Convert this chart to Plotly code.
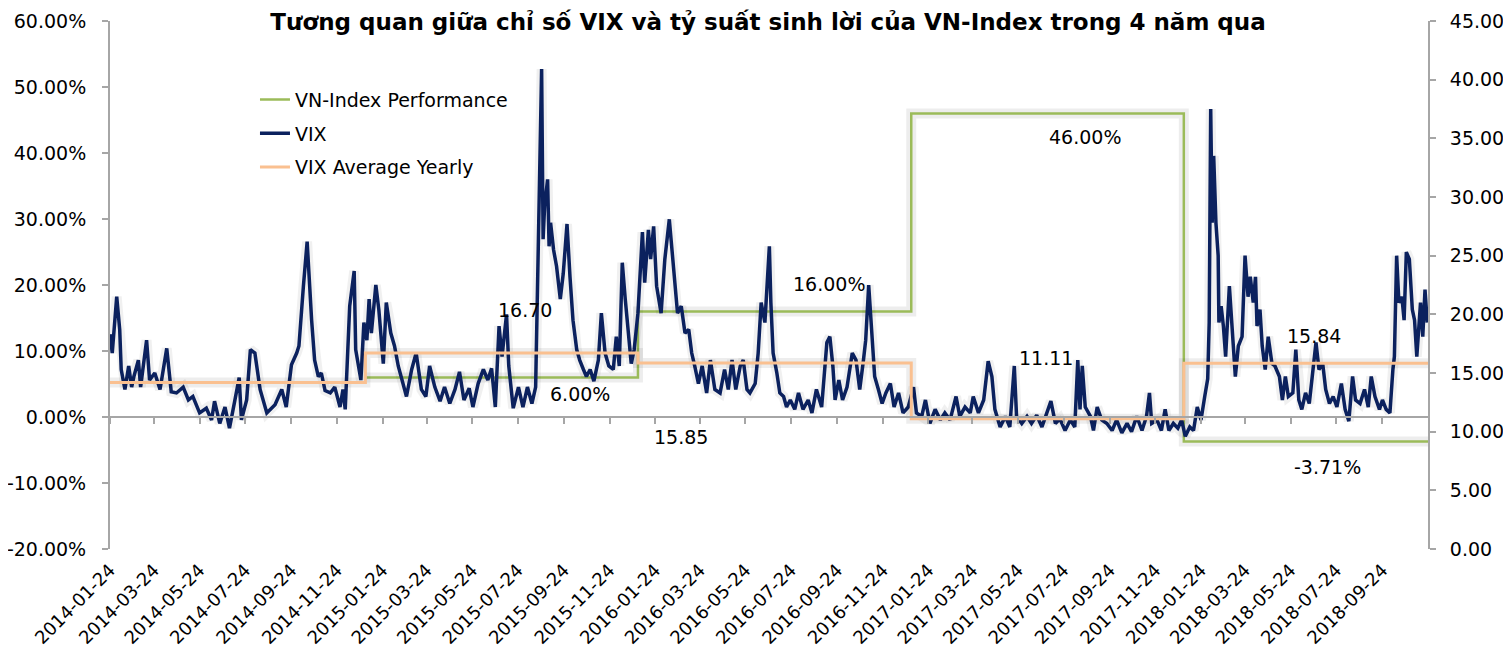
import pandas as pd
import plotly.graph_objects as go

# VIX readings: days after 2014-01-24 and index level
vix_day = [0, 3, 9, 13, 15, 20, 25, 29, 32, 38, 41, 49, 53, 60, 67, 76, 82, 89, 98, 105,
           111, 120, 129, 136, 140, 147, 154, 160, 167, 173, 176, 183, 188, 194, 201, 210, 221, 230, 236, 243,
           250, 253, 259, 264, 270, 274, 279, 283, 288, 295, 301, 308, 312, 315, 321, 327, 329, 336, 340, 344,
           347, 350, 356, 360, 366, 370, 376, 381, 386, 391, 397, 404, 410, 417, 423, 428, 435, 442, 448, 455,
           462, 468, 474, 481, 486, 493, 500, 506, 511, 516, 521, 525, 531, 534, 540, 547, 553, 559, 565, 570,
           578, 580, 582, 586, 588, 590, 594, 598, 603, 607, 612, 616, 620, 625, 629, 634, 638, 643, 648, 654,
           658, 663, 668, 674, 678, 682, 686, 690, 694, 698, 702, 707, 713, 716, 721, 724, 728, 732, 738, 743,
           749, 754, 760, 765, 770, 775, 779, 783, 788, 793, 799, 804, 810, 817, 823, 828, 833, 838, 844, 848,
           853, 857, 864, 868, 872, 877, 883, 885, 888, 893, 897, 902, 906, 911, 917, 922, 928, 935, 940, 946,
           953, 960, 964, 968, 971, 976, 981, 987, 994, 999, 1004, 1009, 1012, 1016, 1020, 1024, 1029, 1034, 1039, 1045,
           1050, 1056, 1062, 1069, 1076, 1080, 1087, 1092, 1098, 1105, 1112, 1118, 1125, 1133, 1138, 1145, 1152, 1156, 1163, 1170,
           1176, 1181, 1185, 1192, 1199, 1205, 1211, 1214, 1221, 1228, 1234, 1241, 1248, 1255, 1260, 1266, 1272, 1279, 1286, 1292,
           1296, 1299, 1302, 1306, 1313, 1317, 1322, 1328, 1335, 1342, 1348, 1355, 1362, 1368, 1375, 1382, 1388, 1392, 1395, 1402,
           1408, 1413, 1418, 1424, 1430, 1435, 1440, 1446, 1451, 1456, 1461, 1466, 1470, 1472, 1474, 1476, 1478, 1481, 1484, 1485,
           1488, 1491, 1494, 1499, 1502, 1507, 1511, 1516, 1520, 1524, 1527, 1531, 1534, 1536, 1540, 1543, 1547, 1551, 1556, 1560,
           1566, 1570, 1574, 1578, 1584, 1588, 1592, 1596, 1601, 1606, 1610, 1615, 1619, 1624, 1628, 1633, 1638, 1643, 1649, 1654,
           1659, 1664, 1668, 1674, 1680, 1685, 1689, 1694, 1700, 1704, 1709, 1714, 1718, 1720, 1723, 1726, 1730, 1733, 1736, 1740,
           1744, 1747, 1750, 1755, 1758, 1761, 1764]
vix_value = [18.3, 16.7, 21.5, 18.7, 15.3, 13.6, 15.6, 13.8, 14.7, 16.1, 13.8, 17.8, 14.4, 15.0, 13.6, 17.1, 13.4, 13.3, 13.8, 12.7,
             13.0, 11.6, 12.0, 11.0, 12.6, 10.7, 12.1, 10.3, 12.6, 14.6, 11.0, 12.7, 17.0, 16.7, 13.6, 11.6, 12.3, 13.6, 12.1, 15.7,
             16.7, 17.3, 22.4, 26.2, 19.5, 16.1, 14.7, 15.0, 13.5, 13.3, 13.8, 12.1, 13.6, 11.9, 20.7, 23.7, 17.0, 14.4, 19.3, 17.8,
             21.3, 18.4, 22.5, 20.4, 15.8, 21.0, 18.4, 17.3, 15.6, 14.4, 13.0, 15.3, 16.7, 13.6, 13.0, 15.6, 13.8, 12.6, 13.8, 12.4,
             13.6, 15.1, 12.7, 13.7, 12.1, 14.1, 15.3, 14.4, 15.4, 12.1, 19.0, 16.4, 20.0, 15.6, 12.0, 13.8, 12.1, 13.8, 12.4, 13.8,
             40.9, 26.4, 29.2, 31.5, 25.8, 27.8, 25.5, 24.1, 21.3, 23.5, 27.7, 23.2, 19.5, 17.0, 16.1, 15.3, 14.7, 15.3, 14.3, 16.1,
             20.1, 16.7, 15.6, 15.3, 18.1, 15.6, 24.4, 21.3, 18.1, 15.8, 17.0, 20.1, 27.0, 22.7, 27.2, 24.7, 27.5, 22.4, 20.1, 24.7,
             28.1, 24.1, 20.1, 20.7, 18.4, 18.7, 16.7, 15.6, 14.1, 15.6, 13.3, 16.1, 13.6, 13.3, 15.3, 13.6, 16.1, 13.6, 15.6, 16.1,
             13.6, 13.3, 14.1, 16.7, 21.0, 19.3, 25.8, 21.0, 16.7, 15.0, 13.3, 13.0, 12.1, 12.7, 11.9, 13.3, 11.9, 12.7, 11.6, 13.6,
             12.1, 17.6, 18.1, 15.6, 12.7, 14.4, 12.7, 13.8, 16.7, 16.1, 13.6, 16.1, 17.8, 22.5, 18.7, 14.7, 13.6, 12.4, 13.3, 14.1,
             12.1, 13.3, 11.6, 12.1, 13.8, 11.6, 11.3, 12.7, 10.7, 11.9, 11.0, 11.6, 11.0, 13.0, 11.3, 12.1, 11.6, 13.0, 11.6, 12.7,
             16.0, 14.7, 11.9, 10.4, 11.3, 10.4, 15.6, 11.3, 10.7, 11.3, 10.7, 11.4, 10.4, 11.6, 12.6, 10.7, 11.1, 10.1, 11.0, 10.4,
             16.1, 11.9, 15.6, 12.1, 11.3, 10.1, 12.1, 11.0, 10.7, 10.1, 11.0, 9.9, 10.7, 10.0, 11.3, 10.1, 11.3, 13.3, 10.7, 11.0,
             10.1, 11.9, 10.1, 10.7, 10.3, 11.0, 9.6, 10.4, 10.1, 12.1, 11.0, 13.0, 14.5, 19.3, 37.5, 27.8, 33.5, 27.8, 25.0, 19.3,
             20.7, 19.0, 16.4, 22.4, 19.3, 14.7, 17.3, 18.1, 25.0, 21.5, 23.2, 21.0, 23.2, 19.0, 20.4, 17.3, 15.3, 18.1, 15.8, 15.6,
             14.7, 12.7, 14.7, 13.0, 13.3, 17.0, 12.7, 11.9, 13.3, 12.4, 14.7, 17.6, 15.3, 15.8, 13.6, 12.4, 13.0, 12.1, 14.1, 11.9,
             10.9, 14.7, 12.7, 12.4, 13.6, 12.1, 14.7, 13.0, 11.9, 12.7, 11.9, 11.6, 15.3, 16.4, 25.0, 21.0, 21.5, 19.5, 25.3, 24.7,
             20.4, 19.5, 16.4, 21.0, 18.1, 22.1, 19.3]

# yearly values
avg_start = ['2014-01-24', '2015-01-01', '2016-01-01', '2017-01-01', '2018-01-01']
vix_avg = [14.20, 16.70, 15.85, 11.11, 15.84]
perf_start = ['2015-01-01', '2016-01-01', '2017-01-01', '2018-01-01']
vn_perf = [0.06, 0.16, 0.46, -0.0371]

left_ticks = [-0.2, -0.1, 0.0, 0.1, 0.2, 0.3, 0.4, 0.5, 0.6]
right_ticks = [0, 5, 10, 15, 20, 25, 30, 35, 40, 45]

start = pd.Timestamp('2014-01-24')
end = pd.Timestamp('2018-11-24')
vix_dates = start + pd.to_timedelta(vix_day, unit='D')
tick_dates = pd.date_range(start, '2018-09-24', freq=pd.DateOffset(months=2))
tick_text = [d.strftime('%Y-%m-%d') for d in tick_dates]

FONT = 'DejaVu Sans'
NAVY = '#0b215e'
GREEN = '#9bbb59'
ORANGE = '#fac090'
AXIS = '#a6a6a6'

fig = go.Figure()

perf_x = pd.to_datetime(perf_start + [end])
perf_y = vn_perf + [vn_perf[-1]]
avg_x = pd.to_datetime(avg_start + [end])
avg_y = vix_avg + [vix_avg[-1]]

# soft shadows under each line
fig.add_trace(go.Scatter(x=perf_x, y=perf_y, mode='lines', line_shape='hv',
                         line=dict(color='rgba(0,0,0,0.07)', width=10), showlegend=False, hoverinfo='skip'))
fig.add_trace(go.Scatter(x=perf_x, y=perf_y, mode='lines', line_shape='hv',
                         line=dict(color=GREEN, width=2.5), name='VN-Index Performance', legendgroup='a'))

fig.add_trace(go.Scatter(x=vix_dates, y=vix_value, yaxis='y2', mode='lines',
                         line=dict(color='rgba(0,0,0,0.06)', width=10), showlegend=False, hoverinfo='skip'))
fig.add_trace(go.Scatter(x=vix_dates, y=vix_value, yaxis='y2', mode='lines',
                         line=dict(color=NAVY, width=3.5), name='VIX', legendgroup='b'))

fig.add_trace(go.Scatter(x=avg_x, y=avg_y, yaxis='y2', mode='lines', line_shape='hv',
                         line=dict(color='rgba(0,0,0,0.07)', width=10), showlegend=False, hoverinfo='skip'))
fig.add_trace(go.Scatter(x=avg_x, y=avg_y, yaxis='y2', mode='lines', line_shape='hv',
                         line=dict(color=ORANGE, width=3), name='VIX Average Yearly', legendgroup='c'))

# empty trace so the zero-level date axis gets drawn
fig.add_trace(go.Scatter(x=[], y=[], xaxis='x2', yaxis='y2', showlegend=False, hoverinfo='skip'))

# data labels
avg_label_dates = ['2015-08-03', '2016-02-28', '2017-07-01', '2018-06-24']
avg_label_shift = [43, -74, 61, 27]
for d, v, s in zip(avg_label_dates, vix_avg[1:], avg_label_shift):
    fig.add_annotation(x=d, y=v, xref='x', yref='y2', text=f'{v:.2f}', showarrow=False,
                       yshift=s, font=dict(family=FONT, size=19, color='black'))
perf_label_dates = ['2015-10-16', '2016-09-13', '2017-08-22', '2018-07-13']
perf_label_shift = [-17, 27, -24, -26]
for d, v, s in zip(perf_label_dates, vn_perf, perf_label_shift):
    fig.add_annotation(x=d, y=v, xref='x', yref='y', text=f'{v:.2%}', showarrow=False,
                       yshift=s, font=dict(family=FONT, size=19, color='black'))

axis_style = dict(showline=True, linecolor=AXIS, linewidth=2, ticks='outside', ticklen=6,
                  tickcolor=AXIS, tickwidth=2, showgrid=False, zeroline=False, automargin=False)

fig.update_layout(
    width=1511, height=657,
    margin=dict(l=102, r=91, t=13, b=116),
    paper_bgcolor='white', plot_bgcolor='white',
    font=dict(family=FONT, size=19, color='black'),
    title=dict(text='<b>Tương quan giữa chỉ số VIX và tỷ suất sinh lời của VN-Index trong 4 năm qua</b>',
               x=0.503, xanchor='center', y=0.991, yanchor='top', automargin=False,
               font=dict(family=FONT, size=23, color='black')),
    showlegend=True,
    legend=dict(x=0.11, y=0.887, xanchor='left', yanchor='top', bgcolor='rgba(0,0,0,0)',
                font=dict(family=FONT, size=19), tracegroupgap=6, traceorder='grouped'),
    xaxis=dict(type='date', range=[start, end], tickmode='array', tickvals=tick_dates, ticktext=tick_text,
               tickangle=-45, showline=False, showgrid=False, zeroline=False, ticks='', automargin=False,
               ticklabelstandoff=6, tickfont=dict(family=FONT, size=18)),
    xaxis2=dict(type='date', overlaying='x', anchor='free', position=0.25, range=[start, end],
                tickmode='array', tickvals=tick_dates, showticklabels=False, **axis_style),
    yaxis=dict(range=[-0.2, 0.6], tickmode='array', tickvals=left_ticks,
               ticktext=[f'{v:.2%}' for v in left_ticks], ticklabelstandoff=12,
               tickfont=dict(family=FONT, size=19), **axis_style),
    yaxis2=dict(range=[0, 45], tickmode='array', tickvals=right_ticks,
                ticktext=[f'{v:.2f}' for v in right_ticks], overlaying='y', side='right', anchor='x',
                ticklabelstandoff=10, tickfont=dict(family=FONT, size=19), **axis_style),
)

fig.write_html('out.html')
